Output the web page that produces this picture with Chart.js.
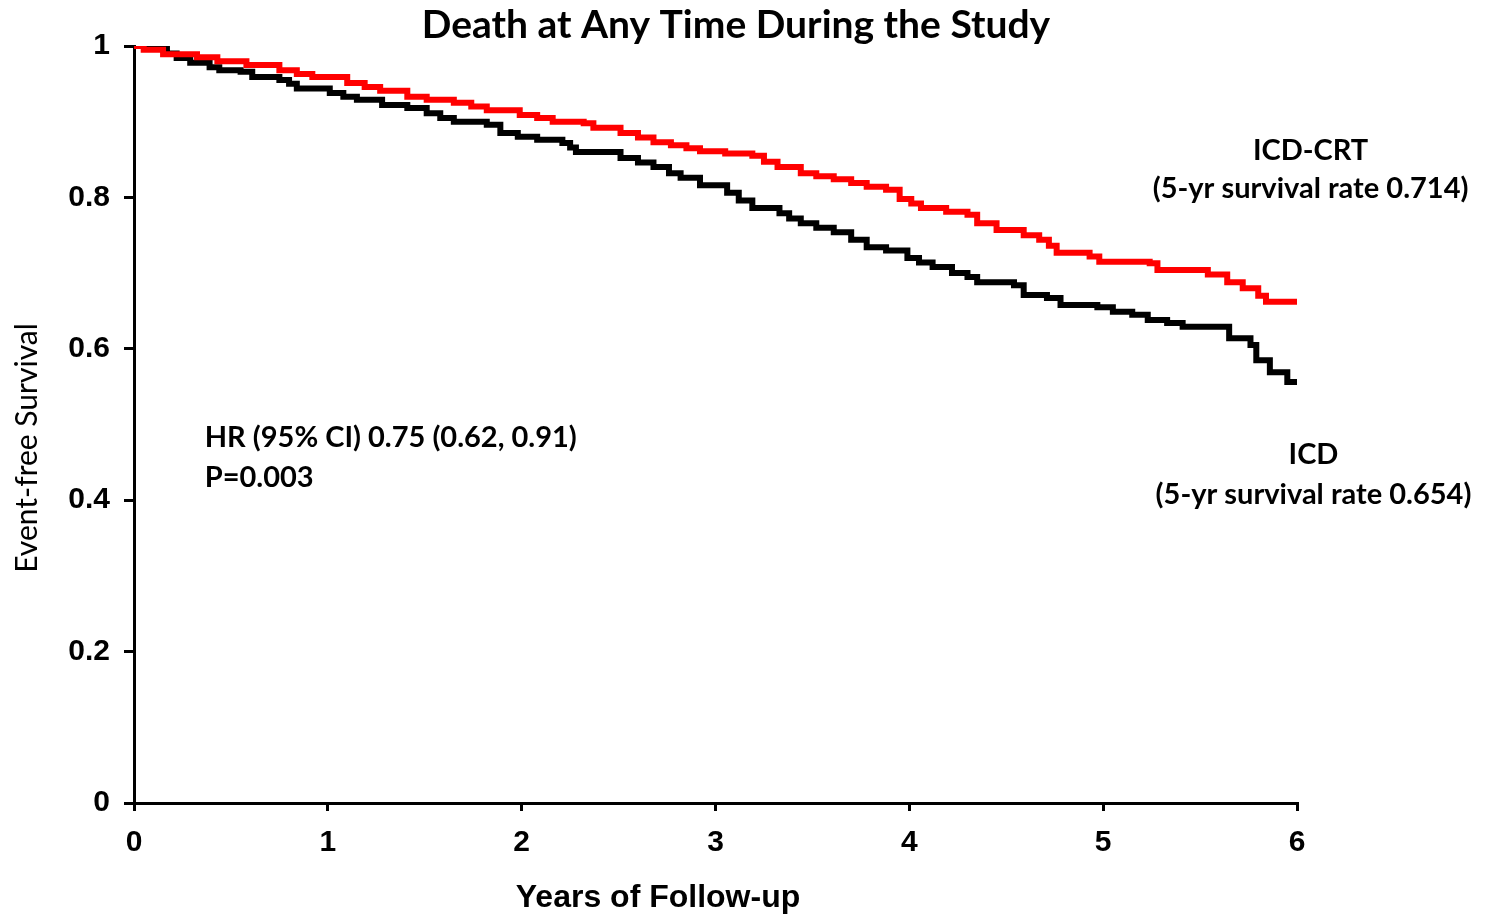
<!DOCTYPE html>
<html>
<head>
<meta charset="utf-8">
<script src="https://cdn.jsdelivr.net/npm/chart.js@4"></script>
<style>
  html, body { margin: 0; padding: 0; background: #fff; }
  #wrap { width: 1486px; height: 916px; }
</style>
</head>
<body>
<div id="wrap"><canvas id="kmChart" width="1486" height="916"></canvas></div>
<script>
// Kaplan-Meier estimates (time in years, event-free survival)
const crtTimes = [0, 0.05, 0.15, 0.325, 0.43, 0.58, 0.75, 0.84, 0.92, 1.1, 1.19, 1.27, 1.41, 1.51, 1.65, 1.74, 1.82, 1.99, 2.08, 2.16, 2.32, 2.37, 2.51, 2.6, 2.68, 2.77, 2.85, 2.92, 3.05, 3.19, 3.25, 3.32, 3.44, 3.52, 3.61, 3.7, 3.78, 3.88, 3.95, 4.01, 4.06, 4.19, 4.3, 4.35, 4.45, 4.59, 4.67, 4.72, 4.76, 4.93, 4.98, 5.24, 5.28, 5.54, 5.64, 5.72, 5.8, 5.84, 6.0];
const crtSurvival = [1.0, 0.995, 0.989, 0.985, 0.98, 0.975, 0.968, 0.963, 0.959, 0.951, 0.946, 0.941, 0.933, 0.929, 0.925, 0.92, 0.915, 0.909, 0.905, 0.9, 0.898, 0.892, 0.885, 0.879, 0.873, 0.869, 0.865, 0.861, 0.858, 0.855, 0.847, 0.84, 0.832, 0.828, 0.824, 0.819, 0.814, 0.81, 0.798, 0.792, 0.786, 0.781, 0.777, 0.766, 0.757, 0.75, 0.744, 0.736, 0.727, 0.722, 0.715, 0.713, 0.704, 0.698, 0.688, 0.68, 0.67, 0.662, 0.662];

const icdTimes = [0, 0.12, 0.17, 0.22, 0.29, 0.39, 0.44, 0.55, 0.61, 0.75, 0.8, 0.84, 1.01, 1.08, 1.15, 1.28, 1.41, 1.51, 1.58, 1.65, 1.82, 1.89, 1.98, 2.08, 2.21, 2.25, 2.28, 2.51, 2.6, 2.68, 2.76, 2.82, 2.92, 3.06, 3.12, 3.19, 3.33, 3.38, 3.44, 3.52, 3.61, 3.7, 3.78, 3.88, 3.99, 4.05, 4.12, 4.22, 4.3, 4.35, 4.54, 4.59, 4.71, 4.78, 4.97, 5.05, 5.15, 5.23, 5.33, 5.41, 5.65, 5.76, 5.79, 5.86, 5.95, 6.0];
const icdSurvival = [1.0, 0.997, 0.99, 0.984, 0.978, 0.972, 0.968, 0.966, 0.959, 0.955, 0.95, 0.944, 0.938, 0.933, 0.929, 0.922, 0.918, 0.911, 0.905, 0.9, 0.896, 0.885, 0.88, 0.876, 0.872, 0.866, 0.86, 0.852, 0.846, 0.84, 0.832, 0.826, 0.816, 0.806, 0.796, 0.786, 0.779, 0.772, 0.766, 0.76, 0.754, 0.744, 0.734, 0.73, 0.72, 0.714, 0.708, 0.7, 0.695, 0.688, 0.684, 0.671, 0.667, 0.658, 0.655, 0.649, 0.645, 0.638, 0.634, 0.629, 0.614, 0.605, 0.585, 0.569, 0.556, 0.556];

const xTicks = [0, 1, 2, 3, 4, 5, 6];
const yTicks = [0, 0.2, 0.4, 0.6, 0.8, 1];

const chartTitle = 'Death at Any Time During the Study';
const xTitle = 'Years of Follow-up';
const yTitle = 'Event-free Survival';

// text notes placed in data coordinates
const notes = [
  { text: 'ICD-CRT', x: 6.07, y: 0.862, align: 'center' },
  { text: '(5-yr survival rate 0.714)', x: 6.07, y: 0.811, align: 'center' },
  { text: 'ICD', x: 6.085, y: 0.460, align: 'center' },
  { text: '(5-yr survival rate 0.654)', x: 6.085, y: 0.407, align: 'center' },
  { text: 'HR (95% CI) 0.75 (0.62, 0.91)', x: 0.365, y: 0.482, align: 'left' },
  { text: 'P=0.003', x: 0.365, y: 0.430, align: 'left' },
];

function toPoints(times, values) {
  return times.map((t, i) => ({ x: t, y: values[i] }));
}

const textPlugin = {
  id: 'kmText',
  afterDraw(chart) {
    const ctx = chart.ctx;
    const xs = chart.scales.x;
    const ys = chart.scales.y;
    ctx.save();
    ctx.fillStyle = '#000';
    ctx.textBaseline = 'middle';

    ctx.font = 'bold 39px Lato';
    ctx.textAlign = 'center';
    ctx.fillText(chartTitle, 736, 25);

    ctx.font = 'bold 29px Lato';
    notes.forEach(n => {
      ctx.textAlign = n.align;
      ctx.fillText(n.text, xs.getPixelForValue(n.x), ys.getPixelForValue(n.y));
    });

    ctx.font = 'bold 32px "Liberation Sans", Arial';
    ctx.textAlign = 'center';
    ctx.fillText(xTitle, 658, 898);

    ctx.translate(27, 448);
    ctx.rotate(-Math.PI / 2);
    ctx.font = '30px Lato';
    ctx.fillText(yTitle, 0, 0);
    ctx.restore();
  }
};

const ctx = document.getElementById('kmChart').getContext('2d');
new Chart(ctx, {
  type: 'line',
  data: {
    datasets: [
      {
        label: 'ICD-CRT',
        data: toPoints(crtTimes, crtSurvival),
        borderColor: '#ff0000',
        borderWidth: 6,
        stepped: 'before',
        pointRadius: 0,
        fill: false,
      },
      {
        label: 'ICD',
        data: toPoints(icdTimes, icdSurvival),
        borderColor: '#000000',
        borderWidth: 6,
        stepped: 'before',
        pointRadius: 0,
        fill: false,
      },
    ],
  },
  options: {
    responsive: false,
    animation: false,
    layout: { padding: { top: 46, right: 189, bottom: 0, left: 0 } },
    plugins: {
      legend: { display: false },
      tooltip: { enabled: false },
      title: { display: false },
    },
    scales: {
      x: {
        type: 'linear',
        min: 0,
        max: 6,
        afterFit: scale => { scale.height = 113; },
        afterBuildTicks: scale => { scale.ticks = xTicks.map(v => ({ value: v })); },
        border: { display: true, color: '#000', width: 3 },
        grid: { drawOnChartArea: false, drawTicks: true, tickLength: 8, color: '#000', lineWidth: 3 },
        ticks: {
          color: '#000',
          padding: 14,
          font: { family: '"Liberation Sans", Arial', weight: 'bold', size: 30 },
          callback: v => String(v),
        },
      },
      y: {
        type: 'linear',
        min: 0,
        max: 1,
        afterFit: scale => { scale.width = 134; },
        afterBuildTicks: scale => { scale.ticks = yTicks.map(v => ({ value: v })); },
        border: { display: true, color: '#000', width: 3 },
        grid: { drawOnChartArea: false, drawTicks: true, tickLength: 10, color: '#000', lineWidth: 3 },
        ticks: {
          color: '#000',
          padding: 14,
          font: { family: '"Liberation Sans", Arial', weight: 'bold', size: 30 },
          callback: v => String(v),
        },
      },
    },
  },
  plugins: [textPlugin],
});
</script>
</body>
</html>
